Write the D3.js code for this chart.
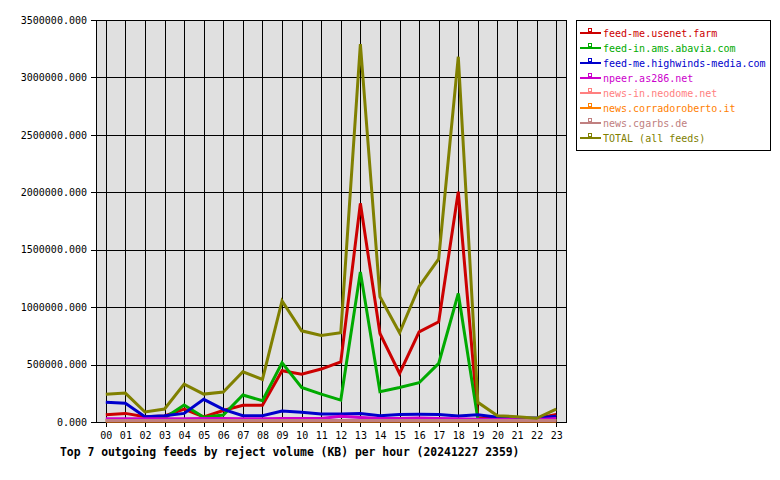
<!DOCTYPE html>
<html>
<head>
<meta charset="utf-8">
<script src="https://cdn.jsdelivr.net/npm/d3@7"></script>
<style>
  body { margin: 0; background: #fff; }
  text { font-family: "DejaVu Sans Mono", monospace; }
</style>
</head>
<body>
<div id="chart"></div>
<script>
const hours = ["00","01","02","03","04","05","06","07","08","09","10","11","12","13","14","15","16","17","18","19","20","21","22","23"];
const yTicks = [0, 500000, 1000000, 1500000, 2000000, 2500000, 3000000, 3500000];

const usenetFarm = [64000, 75000, 46000, 52000, 112000, 45000, 100000, 145000, 145000, 446000, 417000, 461000, 524000, 1904000, 771000, 423000, 785000, 872000, 2005000, 37000, 30000, 30000, 30000, 65000];
const abavia = [15000, 15000, 15000, 35000, 148000, 41000, 61000, 235000, 185000, 516000, 301000, 243000, 191000, 1307000, 264000, 301000, 342000, 510000, 1119000, 25000, 20000, 20000, 20000, 25000];
const highwinds = [171000, 163000, 46000, 55000, 75000, 197000, 110000, 55000, 55000, 96000, 84000, 70000, 70000, 75000, 55000, 65000, 67000, 66000, 52000, 63000, 41000, 35000, 35000, 50000];
const as286 = [28000, 28000, 28000, 28000, 28000, 30000, 30000, 28000, 28000, 30000, 30000, 30000, 50000, 40000, 30000, 30000, 35000, 30000, 28000, 25000, 22000, 20000, 20000, 30000];
const neodome = [10000, 10000, 10000, 10000, 10000, 10000, 10000, 10000, 10000, 10000, 10000, 10000, 10000, 10000, 10000, 10000, 10000, 10000, 10000, 10000, 10000, 10000, 10000, 10000];
const corrado = [8000, 8000, 8000, 8000, 8000, 8000, 8000, 8000, 8000, 8000, 8000, 8000, 8000, 8000, 8000, 8000, 8000, 8000, 8000, 8000, 8000, 8000, 8000, 8000];
const cgarbs = [14000, 14000, 14000, 14000, 14000, 14000, 14000, 14000, 14000, 14000, 14000, 14000, 14000, 14000, 14000, 14000, 14000, 14000, 14000, 14000, 14000, 14000, 14000, 14000];
const total = [241000, 252000, 87000, 113000, 330000, 243000, 261000, 437000, 371000, 1055000, 794000, 754000, 777000, 3290000, 1090000, 777000, 1180000, 1420000, 3180000, 171000, 55000, 46000, 32000, 113000];

const seriesNames = ["feed-me.usenet.farm", "feed-in.ams.abavia.com", "feed-me.highwinds-media.com", "npeer.as286.net", "news-in.neodome.net", "news.corradoroberto.it", "news.cgarbs.de", "TOTAL (all feeds)"];
const seriesValues = [usenetFarm, abavia, highwinds, as286, neodome, corrado, cgarbs, total];
const seriesColors = ["#cc0000", "#00aa00", "#0000cc", "#cc00cc", "#ff8080", "#ff8000", "#c08080", "#808000"];

const width = 780, height = 480;
const plot = { left: 96, right: 566, top: 20, bottom: 422 };

const svg = d3.select("#chart")
  .append("svg")
  .attr("width", width)
  .attr("height", height);

const x = d3.scalePoint()
  .domain(hours)
  .range([plot.left, plot.right])
  .padding(0.5);

const y = d3.scaleLinear()
  .domain([0, 3500000])
  .range([plot.bottom, plot.top]);

// plot background
svg.append("rect")
  .attr("x", plot.left)
  .attr("y", plot.top)
  .attr("width", plot.right - plot.left)
  .attr("height", plot.bottom - plot.top)
  .attr("fill", "#e0e0e0");

// horizontal grid + left ticks
const yAxis = d3.axisLeft(y)
  .tickValues(yTicks)
  .tickFormat(d3.format(".3f"))
  .tickSize(plot.right - plot.left + 5)
  .tickPadding(4);

const gy = svg.append("g")
  .attr("transform", `translate(${plot.right},0)`)
  .call(yAxis);
gy.select(".domain").remove();
gy.selectAll("line").attr("stroke", "#000").attr("shape-rendering", "crispEdges");
gy.selectAll("text").attr("font-size", 10).attr("fill", "#000")
  .attr("font-family", "'DejaVu Sans Mono', monospace");

// vertical grid + bottom ticks
const xAxis = d3.axisBottom(x)
  .tickSize(plot.bottom - plot.top + 5)
  .tickPadding(5);

const gx = svg.append("g")
  .attr("transform", `translate(0,${plot.top})`)
  .call(xAxis);
gx.select(".domain").remove();
gx.selectAll("line").attr("stroke", "#000").attr("shape-rendering", "crispEdges");
gx.selectAll("text").attr("font-size", 10).attr("fill", "#000")
  .attr("font-family", "'DejaVu Sans Mono', monospace");

// frame
svg.append("rect")
  .attr("x", plot.left)
  .attr("y", plot.top)
  .attr("width", plot.right - plot.left)
  .attr("height", plot.bottom - plot.top)
  .attr("fill", "none")
  .attr("stroke", "#000")
  .attr("shape-rendering", "crispEdges");

// series lines
const line = d3.line()
  .x((d, i) => x(hours[i]))
  .y(d => y(d));

seriesValues.forEach((vals, k) => {
  svg.append("path")
    .datum(vals)
    .attr("d", line)
    .attr("fill", "none")
    .attr("stroke", seriesColors[k])
    .attr("stroke-width", 3)
    .attr("stroke-linejoin", "miter");
});

// title
svg.append("text")
  .attr("x", 60)
  .attr("y", 456)
  .attr("font-size", 11.4)
  .attr("font-weight", "bold")
  .attr("fill", "#000")
  .text("Top 7 outgoing feeds by reject volume (KB) per hour (20241227 2359)");

// legend
const legend = svg.append("g");
legend.append("rect")
  .attr("x", 576.5)
  .attr("y", 20.5)
  .attr("width", 194)
  .attr("height", 130)
  .attr("fill", "#fff")
  .attr("stroke", "#000");

seriesNames.forEach((name, k) => {
  const ly = 33 + k * 15;
  legend.append("line")
    .attr("x1", 580).attr("x2", 601)
    .attr("y1", ly).attr("y2", ly)
    .attr("stroke", seriesColors[k])
    .attr("stroke-width", 2);
  legend.append("rect")
    .attr("x", 588.5).attr("y", ly - 4.5)
    .attr("width", 3).attr("height", 3)
    .attr("fill", "none")
    .attr("stroke", seriesColors[k]);
  legend.append("text")
    .attr("x", 603)
    .attr("y", ly + 4)
    .attr("font-size", 10)
    .attr("fill", seriesColors[k])
    .text(name);
});
</script>
</body>
</html>
